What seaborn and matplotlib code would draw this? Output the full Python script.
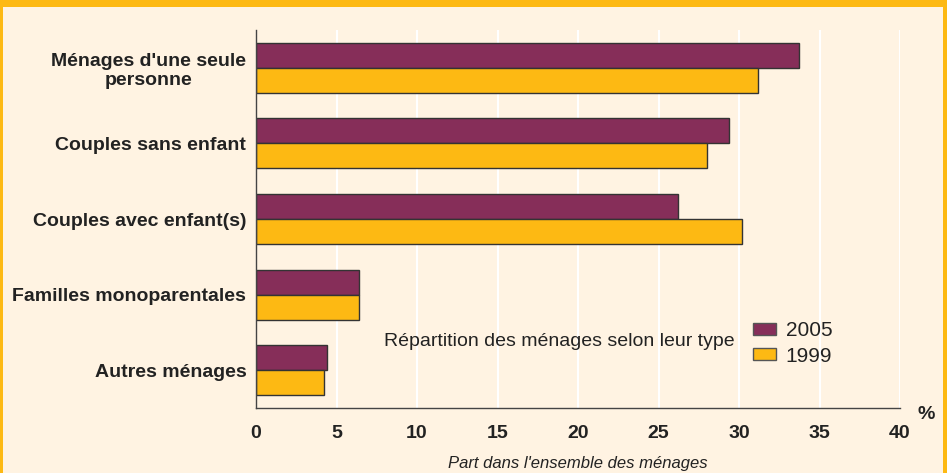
import numpy as np
import pandas as pd
import matplotlib
matplotlib.use("Agg")
import matplotlib.pyplot as plt
import matplotlib.patches as mpatches
import seaborn as sns

# values (% of households)
categories = ["Ménages d'une seule\npersonne", "Couples sans enfant", "Couples avec enfant(s)",
              "Familles monoparentales", "Autres ménages"]
years = ["2005", "1999"]
vals_2005 = [33.7, 29.4, 26.2, 6.4, 4.4]
vals_1999 = [31.2, 28.0, 30.2, 6.4, 4.2]
xticks = [0, 5, 10, 15, 20, 25, 30, 35, 40]

bg = "#FFF3E2"
purple = "#862E59"
orange = "#FDB913"
edge = "#333333"

df = pd.DataFrame({
    "type": categories * 2,
    "year": ["2005"] * len(categories) + ["1999"] * len(categories),
    "part": vals_2005 + vals_1999,
})

sns.set_style("white")
plt.rcParams['font.family'] = ['Liberation Sans', 'DejaVu Sans']

fig = plt.figure(figsize=(9.47, 4.73), dpi=100, facecolor=bg)
ax = fig.add_axes([256 / 947, 1 - 408 / 473, (900 - 256) / 947, (408 - 30) / 473])
ax.set_facecolor(bg)

sns.barplot(data=df, y="type", x="part", hue="year", hue_order=years, order=categories,
            palette={"2005": purple, "1999": orange}, width=0.66, orient="h",
            edgecolor=edge, linewidth=1.0, saturation=1, legend=False, ax=ax)

ax.set_xlim(0, 40)
ax.set_ylim(len(categories) - 0.5, -0.5)
ax.set_xticks(xticks)
ax.set_xticklabels([str(t) for t in xticks], fontsize=14, fontweight="bold", color="#222222")
ax.grid(axis="x", color="white", linewidth=1.5)
ax.set_axisbelow(True)

# category labels at centres, small ticks at the boundaries
ax.set_yticks(np.arange(len(categories)))
ax.set_yticklabels(categories, fontsize=14, fontweight="bold", color="#222222",
                   ha="right", multialignment="center")
ax.set_yticks(np.arange(len(categories) + 1) - 0.5, minor=True)
ax.tick_params(axis="y", which="major", length=0, pad=7)
ax.tick_params(axis="y", which="minor", length=4, width=1, color="#444444", direction="out")
ax.tick_params(axis="x", which="major", length=4, width=1, color="#444444", direction="out", pad=8)

ax.set_ylabel("")
ax.set_xlabel("Part dans l'ensemble des ménages", fontsize=12, fontstyle="italic",
              color="#222222", labelpad=10)
for side in ["top", "right"]:
    ax.spines[side].set_visible(False)
for side in ["left", "bottom"]:
    ax.spines[side].set_color("#444444")
    ax.spines[side].set_linewidth(1)

fig.text(917 / 947, 1 - 414 / 473, "%", fontsize=14, fontweight="bold", color="#222222",
         ha="left", va="center")
ax.text(0.198, 0.175, "Répartition des ménages selon leur type", transform=ax.transAxes,
        fontsize=14, color="#222222", ha="left", va="center")

handles = [mpatches.Patch(facecolor=purple, edgecolor="#555555", label="2005"),
           mpatches.Patch(facecolor=orange, edgecolor="#555555", label="1999")]
fig.legend(handles=handles, loc="upper left", bbox_to_anchor=(745 / 947, 1 - 313 / 473),
           frameon=False, fontsize=15, handlelength=1.1, handleheight=0.55,
           handletextpad=0.45, labelspacing=0.3, borderaxespad=0, labelcolor="#222222")

# orange frame: top band and side borders
fig.patches.append(mpatches.Rectangle((0, 1 - 7 / 473), 1, 7 / 473, transform=fig.transFigure,
                                      facecolor=orange, edgecolor="none", zorder=5))
fig.patches.append(mpatches.Rectangle((0, 0), 3 / 947, 1, transform=fig.transFigure,
                                      facecolor=orange, edgecolor="none", zorder=5))
fig.patches.append(mpatches.Rectangle((1 - 4 / 947, 0), 4 / 947, 1, transform=fig.transFigure,
                                      facecolor=orange, edgecolor="none", zorder=5))

fig.savefig("out.png", dpi=100, facecolor=bg)
